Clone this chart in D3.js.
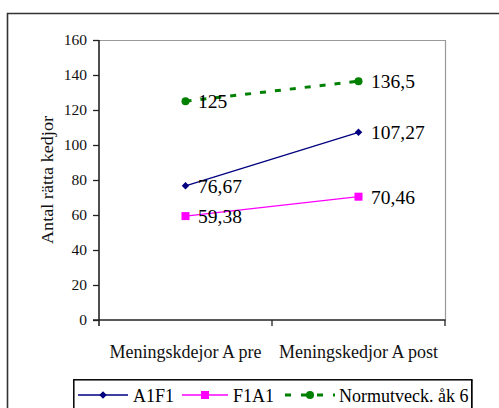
<!DOCTYPE html>
<html>
<head>
<meta charset="utf-8">
<script src="https://cdn.jsdelivr.net/npm/d3@7"></script>
<style>
  html, body { margin: 0; padding: 0; background: #fff; }
  svg text { font-family: "Liberation Serif", "Times New Roman", Times, serif; }
</style>
</head>
<body>
<svg id="chart" width="499" height="408"></svg>
<script>
// Categories (x axis) and series values
const categories = ["Meningskdejor A pre", "Meningskedjor A post"];
const seriesNames = ["A1F1", "F1A1", "Normutveck. åk 6"];
const valuesA1F1 = [76.67, 107.27];
const valuesF1A1 = [59.38, 70.46];
const valuesNorm = [125, 136.5];
const valueLabelsA1F1 = ["76,67", "107,27"];
const valueLabelsF1A1 = ["59,38", "70,46"];
const valueLabelsNorm = ["125", "136,5"];
const yTicks = [0, 20, 40, 60, 80, 100, 120, 140, 160];
const yTitle = "Antal rätta kedjor";

const series = [
  { name: seriesNames[0], values: valuesA1F1, labels: valueLabelsA1F1, color: "#000080", marker: "diamond", width: 1.3, dash: null },
  { name: seriesNames[1], values: valuesF1A1, labels: valueLabelsF1A1, color: "#ff00ff", marker: "square", width: 1.3, dash: null },
  { name: seriesNames[2], values: valuesNorm, labels: valueLabelsNorm, color: "#008000", marker: "circle", width: 3, dash: "6,9" }
];

const serifStack = '"Liberation Serif", "Times New Roman", Times, serif';
const svg = d3.select("#chart");
const plot = { left: 99, right: 445, top: 40, bottom: 320 };

const x = d3.scaleBand().domain(categories).range([plot.left, plot.right]).padding(0);
const y = d3.scaleLinear().domain([0, 160]).range([plot.bottom, plot.top]);

// Outer chart frame
svg.append("path")
  .attr("d", "M7.5,408 L7.5,13.5 L499,13.5")
  .attr("fill", "none").attr("stroke", "#333").attr("stroke-width", 1.6);

// Plot area frame (top and right edges)
svg.append("path")
  .attr("d", `M${plot.left},${plot.top + 0.5} L${plot.right + 0.5},${plot.top + 0.5} L${plot.right + 0.5},${plot.bottom}`)
  .attr("fill", "none").attr("stroke", "#999").attr("stroke-width", 1.2);

// Y axis
const yAxis = svg.append("g")
  .attr("transform", `translate(${plot.left},0)`)
  .call(d3.axisLeft(y).tickValues(yTicks).tickSize(6).tickPadding(6).tickFormat(d3.format("d")));
yAxis.attr("font-family", null);
yAxis.select(".domain").remove();
yAxis.selectAll(".tick line").attr("stroke", "#222").attr("stroke-width", 1.3);
yAxis.selectAll("text").attr("font-size", "15.5px").attr("fill", "#111");
svg.append("line")
  .attr("x1", plot.left).attr("x2", plot.left)
  .attr("y1", plot.top).attr("y2", plot.bottom + 6)
  .attr("stroke", "#222").attr("stroke-width", 1.6);

// X axis: baseline, boundary ticks and centred category labels
svg.append("line")
  .attr("x1", plot.left - 6).attr("x2", plot.right + 0.5)
  .attr("y1", plot.bottom).attr("y2", plot.bottom)
  .attr("stroke", "#222").attr("stroke-width", 1.6);
const boundaries = categories.map(c => x(c)).concat([x(categories[categories.length - 1]) + x.bandwidth()]);
svg.selectAll(".xtick").data(boundaries.slice(1)).enter().append("line")
  .attr("class", "xtick")
  .attr("x1", d => d).attr("x2", d => d)
  .attr("y1", plot.bottom).attr("y2", plot.bottom + 6)
  .attr("stroke", "#222").attr("stroke-width", 1.3);
const xAxis = svg.append("g")
  .attr("transform", `translate(0,${plot.bottom})`)
  .call(d3.axisBottom(x).tickSize(0).tickPadding(25));
xAxis.attr("font-family", null);
xAxis.select(".domain").remove();
xAxis.selectAll("text").attr("font-size", "18px").attr("fill", "#111");

// Y axis title
svg.append("text")
  .attr("transform", `translate(53,${(plot.top + plot.bottom) / 2}) rotate(-90)`)
  .attr("text-anchor", "middle")
  .attr("font-size", "16px").attr("fill", "#111")
  .attr("textLength", 128).attr("lengthAdjust", "spacingAndGlyphs")
  .text(yTitle);

const cx = c => x(c) + x.bandwidth() / 2;

function drawMarker(g, type, px, py, color) {
  if (type === "diamond") {
    g.append("path").attr("d", d3.symbol(d3.symbolDiamond2, 36)())
      .attr("transform", `translate(${px},${py})`).attr("fill", color);
  } else if (type === "square") {
    g.append("rect").attr("x", px - 4).attr("y", py - 4).attr("width", 8).attr("height", 8).attr("fill", color);
  } else {
    g.append("circle").attr("cx", px).attr("cy", py).attr("r", 4).attr("fill", color);
  }
}

// Series lines, markers and value labels
const line = d3.line().x(d => cx(d.cat)).y(d => y(d.v));
series.forEach(s => {
  const pts = categories.map((c, i) => ({ cat: c, v: s.values[i], label: s.labels[i] }));
  const g = svg.append("g");
  g.append("path").datum(pts).attr("d", line)
    .attr("fill", "none").attr("stroke", s.color).attr("stroke-width", s.width)
    .attr("stroke-dasharray", s.dash);
  pts.forEach(p => drawMarker(g, s.marker, cx(p.cat), y(p.v), s.color));
  g.selectAll("text").data(pts).enter().append("text")
    .attr("x", d => cx(d.cat) + 12.5)
    .attr("y", d => y(d.v) + 7)
    .attr("font-size", "19.5px").attr("fill", "#000")
    .text(d => d.label);
});

// Legend
const legend = svg.append("g");
legend.append("rect")
  .attr("x", 73.8).attr("y", 379.8).attr("width", 398).attr("height", 40)
  .attr("fill", "#fff").attr("stroke", "#000").attr("stroke-width", 1.5);
const legendItems = [
  { s: series[0], x0: 78, x1: 128, tx: 133 },
  { s: series[1], x0: 182, x1: 228, tx: 233 },
  { s: series[2], x0: 285, x1: 335, tx: 339 }
];
const ly = 395;
legendItems.forEach(it => {
  legend.append("line")
    .attr("x1", it.x0).attr("x2", it.x1).attr("y1", ly).attr("y2", ly)
    .attr("stroke", it.s.color).attr("stroke-width", it.s.width)
    .attr("stroke-dasharray", it.s.dash ? "6,10" : null);
  drawMarker(legend, it.s.marker, (it.x0 + it.x1) / 2, ly, it.s.color);
  legend.append("text").attr("x", it.tx).attr("y", ly + 6.5)
    .attr("font-size", "18px").attr("fill", "#000").text(it.s.name);
});
// Legend text is cut off at the box's right edge
legend.append("rect").attr("x", 472.6).attr("y", 381).attr("width", 30).attr("height", 30).attr("fill", "#fff");
legend.append("line").attr("x1", 471.8).attr("x2", 471.8).attr("y1", 379.8).attr("y2", 408)
  .attr("stroke", "#000").attr("stroke-width", 1.5);

svg.selectAll("text").style("font-family", serifStack);
</script>
</body>
</html>
